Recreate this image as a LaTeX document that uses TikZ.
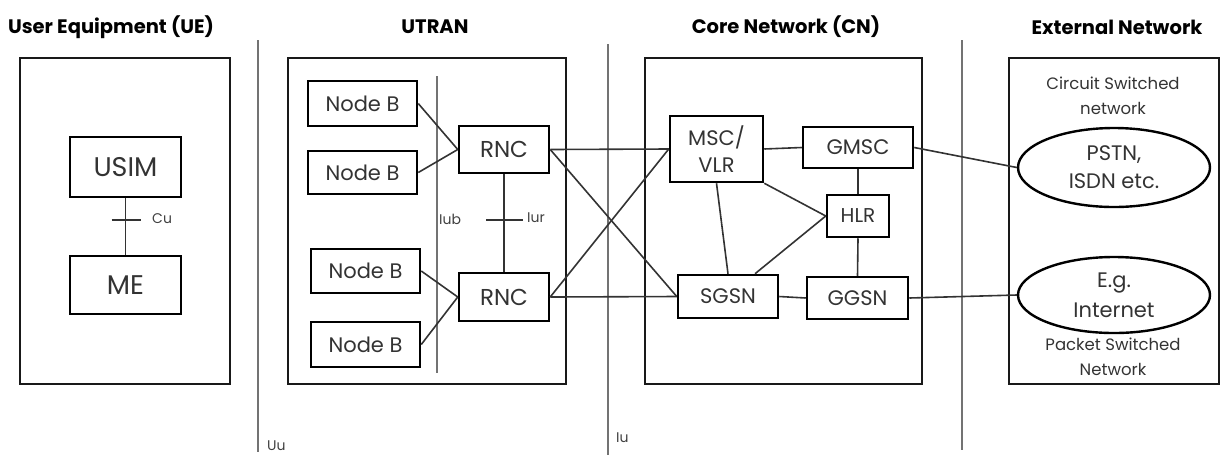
\documentclass[tikz,border=0pt]{standalone}
\usepackage{fontspec}
\setmainfont{Poppins}
\usetikzlibrary{shapes.geometric}
\begin{document}
\begin{tikzpicture}[x=1pt,y=-1pt,
  frame/.style={draw, line width=2.6pt, black!90, inner sep=0pt},
  box/.style={draw, line width=2.5pt, inner sep=0pt, text=black!80, align=center},
  oval/.style={draw, ellipse, line width=2.4pt, inner sep=0pt, text=black!80, align=center},
  link/.style={line width=1.6pt, black!80},
  sep/.style={line width=1.8pt, black!55},
  head/.style={font=\fontsize{19.5}{22}\selectfont\bfseries},
  lbl/.style={text=black!75, font=\fontsize{14}{16}\selectfont, inner sep=0pt},
  note/.style={text=black!80, align=center, font=\fontsize{16.5}{25}\selectfont},
  fb/.style={font=\fontsize{21}{24}\selectfont}
]
\useasboundingbox (0,0) rectangle (1225,459);

% headers
\node[head] (hue) at (111,27) {User Equipment (UE)};
\node[head] (hutran) at (435,27) {UTRAN};
\node[head] (hcn) at (786,27) {Core Network (CN)};
\node[head] (hext) at (1117,27) {External Network};

% separators
\draw[sep] (258,40) -- (258,452);
\draw[sep] (608,44) -- (608,455);
\draw[sep] (962,40) -- (962,450);
\node[lbl, anchor=west] (uu) at (267,446) {Uu};
\node[lbl, anchor=west] (iu) at (616,438) {Iu};

% frames
\node[frame, minimum width=210pt, minimum height=326pt] (ue) at (125,221) {};
\node[frame, minimum width=278pt, minimum height=326pt] (utran) at (427,221) {};
\node[frame, minimum width=277pt, minimum height=326pt] (cn) at (783.5,221) {};
\node[frame, minimum width=210pt, minimum height=326pt] (ext) at (1114,221) {};

% UE
\node[box, minimum width=111pt, minimum height=60pt, font=\fontsize{27}{30}\selectfont] (usim) at (125.5,167) {USIM};
\node[box, minimum width=111pt, minimum height=58pt, font=\fontsize{27}{30}\selectfont] (me) at (125.5,285) {ME};
\draw[link] (usim.south) -- (me.north);
\coordinate (cu) at (125.5,220);
\draw[link] ([xshift=-14pt]cu) -- ([xshift=15pt]cu);
\node[lbl, anchor=west] (culbl) at (152,219) {Cu};

% UTRAN
\node[box, fb, minimum width=109pt, minimum height=45pt] (nb1) at (362.5,103.5) {Node B};
\node[box, fb, minimum width=109pt, minimum height=43pt] (nb2) at (362.5,172.5) {Node B};
\node[box, fb, minimum width=109pt, minimum height=44pt] (nb3) at (365.5,271) {Node B};
\node[box, fb, minimum width=109pt, minimum height=45pt] (nb4) at (365.5,344.5) {Node B};
\draw[sep, line width=1.5pt] (437,76) -- (437,373);
\node[lbl, anchor=west] (iub) at (439,219) {Iub};
\node[box, minimum width=90pt, minimum height=47pt, font=\fontsize{23}{26}\selectfont] (rnc1) at (504,149.5) {RNC};
\node[box, minimum width=90pt, minimum height=48pt, font=\fontsize{23}{26}\selectfont] (rnc2) at (504,297) {RNC};
\draw[link] (nb1.east) -- (rnc1.west);
\draw[link] (nb2.east) -- (rnc1.west);
\draw[link] (nb3.east) -- (rnc2.west);
\draw[link] (nb4.east) -- (rnc2.west);
\draw[link] (rnc1.south) -- (rnc2.north);
\coordinate (iur) at (504,220);
\draw[link] ([xshift=-18pt]iur) -- ([xshift=19pt]iur);
\node[lbl, anchor=west] (iurlbl) at (527,218) {Iur};

% CN
\node[box, minimum width=93pt, minimum height=66pt, font=\fontsize{21}{27}\selectfont] (msc) at (716.5,149) {MSC/\\VLR};
\node[box, minimum width=100pt, minimum height=43pt, font=\fontsize{21}{24}\selectfont] (sgsn) at (728,296.5) {SGSN};
\node[box, minimum width=110pt, minimum height=41pt, font=\fontsize{21}{24}\selectfont] (gmsc) at (858,147.5) {GMSC};
\node[box, minimum width=62pt, minimum height=42pt, font=\fontsize{20}{22}\selectfont] (hlr) at (858,216) {HLR};
\node[box, minimum width=101pt, minimum height=42pt, font=\fontsize{21}{24}\selectfont] (ggsn) at (857.5,298) {GGSN};

\draw[link] (rnc1.east) -- (msc.west);
\draw[link] (rnc1.east) -- (sgsn.west);
\draw[link] (rnc2.east) -- (msc.west);
\draw[link] (rnc2.east) -- (sgsn.west);
\draw[link] (msc.east) -- (gmsc.west);
\draw[link] (msc.south east) -- (hlr.west);
\draw[link] (msc.south) -- (sgsn.north);
\draw[link] ([xshift=27pt]sgsn.north) -- (hlr.west);
\draw[link] (gmsc.south) -- (hlr.north);
\draw[link] (hlr.south) -- (ggsn.north);
\draw[link] (sgsn.east) -- (ggsn.west);

% External
\node[note] (csn) at (1113,96) {Circuit Switched\\network};
\node[oval, minimum width=192pt, minimum height=79pt, font=\fontsize{21}{28}\selectfont] (pstn) at (1114,167.5) {PSTN,\\ISDN etc.};
\node[oval, minimum width=192pt, minimum height=76pt, font=\fontsize{21}{30}\selectfont] (inet) at (1114,295) {E.g.\\Internet};
\node[note] (psn) at (1113,357) {Packet Switched\\Network};
\draw[link] (gmsc.east) -- (pstn.west);
\draw[link] (ggsn.east) -- (inet.west);
\end{tikzpicture}
\end{document}
